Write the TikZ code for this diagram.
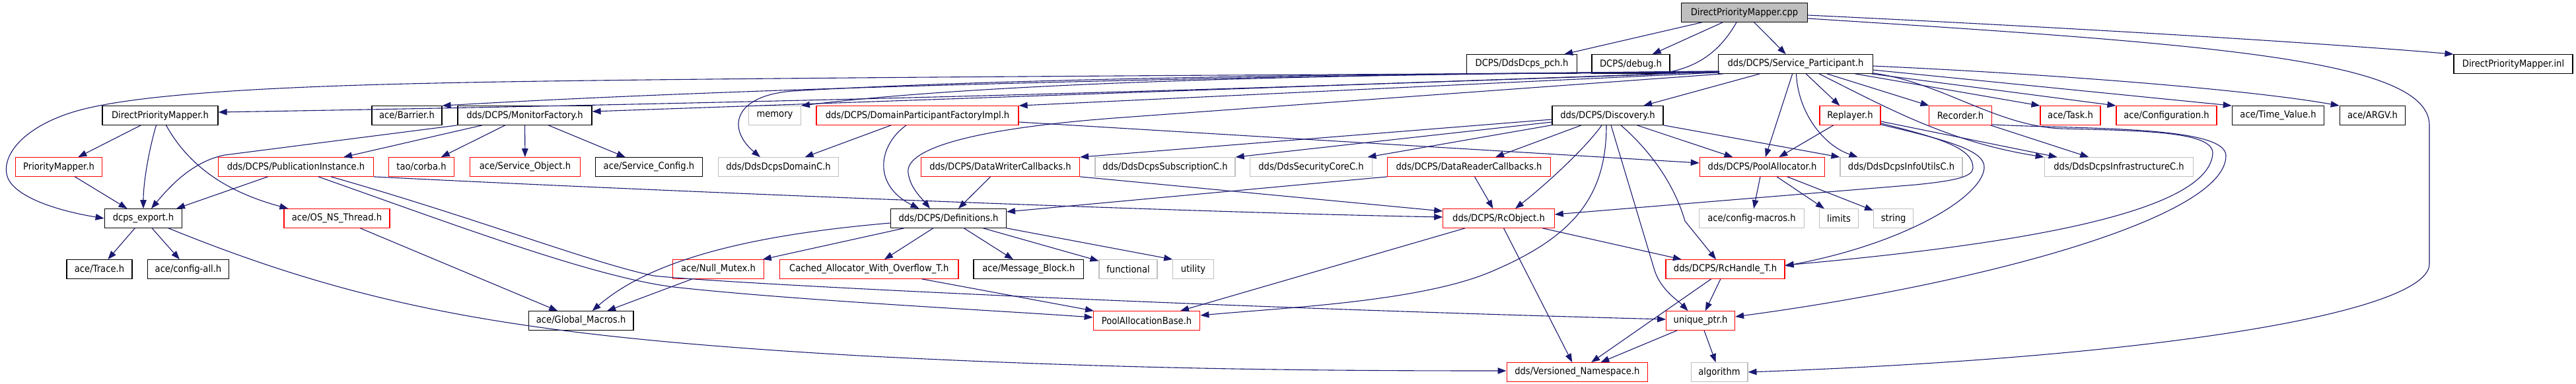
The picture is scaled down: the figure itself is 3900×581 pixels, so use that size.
\documentclass[tikz,border=0pt]{standalone}
\usepackage{fontspec}
\newfontfamily\gf[FakeStretch=0.9]{DejaVu Sans}
\usetikzlibrary{arrows.meta,calc}
\definecolor{edgec}{HTML}{191970}
\definecolor{redc}{HTML}{FF0000}
\definecolor{grayc}{HTML}{BFBFBF}
\tikzset{
  box/.style={draw=black, line width=1.2pt, minimum height=28.5pt, inner sep=0pt, font=\gf\fontsize{14.6}{17}\selectfont, text=black, fill=white},
  rbox/.style={box, draw=redc},
  gbox/.style={box, draw=grayc},
  edge/.style={draw=edgec, line width=1.1pt, -{Triangle[length=13pt,width=9.5pt]}}
}
\begin{document}
\begin{tikzpicture}[x=1pt,y=-1pt]
\useasboundingbox (0,0) rectangle (3900,581);
% row 0
\node[box, fill=grayc, minimum width=191pt] (cpp) at (2641,19) {DirectPriorityMapper.cpp};
% row 1
\node[box, minimum width=166.7pt] (pch) at (2304,97) {DCPS/DdsDcps\_pch.h};
\node[box, minimum width=118pt] (dbg) at (2469,97) {DCPS/debug.h};
\node[box, minimum width=233.6pt] (sp) at (2718.5,97) {dds/DCPS/Service\_Participant.h};
\node[box, minimum width=180pt] (inl) at (3805,97) {DirectPriorityMapper.inl};
% row 2
\node[box, minimum width=175pt] (dpmh) at (242.5,175) {DirectPriorityMapper.h};
\node[box, minimum width=106pt] (barrier) at (616,175) {ace/Barrier.h};
\node[box, minimum width=203pt] (mf) at (794.5,175) {dds/DCPS/MonitorFactory.h};
\node[gbox, minimum width=78.7pt] (mem) at (1173,175) {memory};
\node[rbox, minimum width=306pt] (dpf) at (1389,175) {dds/DCPS/DomainParticipantFactoryImpl.h};
\node[box, minimum width=168pt] (disc) at (2434,175) {dds/DCPS/Discovery.h};
\node[rbox, minimum width=92pt] (rep) at (2801,175) {Replayer.h};
\node[rbox, minimum width=94.3pt] (rec) at (2968,175) {Recorder.h};
\node[rbox, minimum width=91pt] (task) at (3134.5,175) {ace/Task.h};
\node[rbox, minimum width=152pt] (conf) at (3280,175) {ace/Configuration.h};
\node[box, minimum width=139.3pt] (tv) at (3449,175) {ace/Time\_Value.h};
\node[box, minimum width=99.5pt] (argv) at (3592,175) {ace/ARGV.h};
% row 3
\node[rbox, minimum width=130.5pt] (pm) at (89,253) {PriorityMapper.h};
\node[rbox, minimum width=234.5pt] (pi) at (448,253) {dds/DCPS/PublicationInstance.h};
\node[rbox, minimum width=98.5pt] (corba) at (638,253) {tao/corba.h};
\node[rbox, minimum width=166.5pt] (so) at (795,253) {ace/Service\_Object.h};
\node[box, minimum width=162.5pt] (sc) at (982.5,253) {ace/Service\_Config.h};
\node[gbox, minimum width=182.6pt] (domc) at (1178.5,253) {dds/DdsDcpsDomainC.h};
\node[rbox, minimum width=240pt] (dwc) at (1514.5,253) {dds/DCPS/DataWriterCallbacks.h};
\node[gbox, minimum width=212pt] (subc) at (1764,253) {dds/DdsDcpsSubscriptionC.h};
\node[gbox, minimum width=185.4pt] (secc) at (1985,253) {dds/DdsSecurityCoreC.h};
\node[rbox, minimum width=246.6pt] (drc) at (2224,253) {dds/DCPS/DataReaderCallbacks.h};
\node[rbox, minimum width=189.4pt] (pa) at (2668,253) {dds/DCPS/PoolAllocator.h};
\node[gbox, minimum width=185pt] (infou) at (2878.5,253) {dds/DdsDcpsInfoUtilsC.h};
\node[gbox, minimum width=225.5pt] (infra) at (3208,253) {dds/DdsDcpsInfrastructureC.h};
% row 4
\node[box, minimum width=117.5pt] (dcps) at (217,331) {dcps\_export.h};
\node[rbox, minimum width=160pt] (os) at (510,331) {ace/OS\_NS\_Thread.h};
\node[box, minimum width=174.7pt] (defs) at (1436,331) {dds/DCPS/Definitions.h};
\node[rbox, minimum width=168.4pt] (rco) at (2269,331) {dds/DCPS/RcObject.h};
\node[gbox, minimum width=158.7pt] (cm) at (2652,331) {ace/config-macros.h};
\node[gbox, minimum width=58.5pt] (lim) at (2784,331) {limits};
\node[gbox, minimum width=60pt] (str) at (2866.6,331) {string};
% row 5
\node[box, minimum width=99pt] (trace) at (150.5,408) {ace/Trace.h};
\node[box, minimum width=122.5pt] (cfgall) at (285,408) {ace/config-all.h};
\node[rbox, minimum width=138.5pt] (nm) at (1087.5,408) {ace/Null\_Mutex.h};
\node[rbox, minimum width=270.5pt] (cao) at (1315.7,408) {Cached\_Allocator\_With\_Overflow\_T.h};
\node[box, minimum width=166.7pt] (mb) at (1557.4,408) {ace/Message\_Block.h};
\node[gbox, minimum width=88pt] (func) at (1708,408) {functional};
\node[gbox, minimum width=61.5pt] (util) at (1806.5,408) {utility};
\node[rbox, minimum width=180pt] (rch) at (2612,408) {dds/DCPS/RcHandle\_T.h};
% row 6
\node[box, minimum width=158.7pt] (gm) at (879.6,486) {ace/Global\_Macros.h};
\node[rbox, minimum width=161.6pt] (pab) at (1736,486) {PoolAllocationBase.h};
\node[rbox, minimum width=103.8pt] (uptr) at (2574.6,486) {unique\_ptr.h};
% row 7
\node[rbox, minimum width=213.4pt] (vns) at (2387.8,564) {dds/Versioned\_Namespace.h};
\node[gbox, minimum width=85.8pt] (alg) at (2603,564) {algorithm};

% ---- edges from cpp
\draw[edge] (cpp) -- (pch);
\draw[edge] (cpp) -- (dbg);
\draw[edge] (cpp) -- (sp);
\draw[edge] ($(cpp.east)+(0,4)$) .. controls (3200,45) and (3550,68) .. (inl.north west);
\draw[edge] ($(cpp.east)+(0,9)$) .. controls (3350,67) and (3678,90) .. (3678,190) -- (3678,400) .. controls (3678,470) and (3300,540) .. (alg.east);
\draw[edge] ($(cpp.south)+(-12,0)$) .. controls (2600,85) and (2560,108) .. (2500,113) .. controls (2000,130) and (1400,152) .. ($(dpmh.east)+(0,-5)$);

% ---- edges from Service_Participant
\draw[edge] ($(sp.south west)+(2,-2)$) .. controls (2000,113) and (1000,118) .. (660,126) .. controls (380,132) and (190,145) .. (110,170) .. controls (30,195) and (0,240) .. (12,270) .. controls (25,300) and (90,320) .. (dcps.west);
\draw[edge] ($(sp.south west)+(2,-4)$) .. controls (1800,115) and (1100,135) .. (barrier.north east);
\draw[edge] ($(sp.south west)+(2,-3)$) -- ($(mf.east)+(0,-6)$);
\draw[edge] ($(sp.south west)+(2,-3)$) .. controls (2000,112) and (1500,125) .. (mem.north east);
\draw[edge] ($(sp.south west)+(2,-3)$) .. controls (2000,112) and (1500,120) .. (1200,138) .. controls (1110,145) and (1100,195) .. ($(domc.north)+(-27.5,0)$);
\draw[edge] ($(sp.south west)+(2,-2)$) -- (dpf.north east);
\draw[edge] ($(sp.south west)+(8,0)$) -- (1700,178) .. controls (1450,196) and (1370,230) .. (1375,262) .. controls (1378,285) and (1395,300) .. ($(defs.north)+(-28,0)$);
\draw[edge] (sp) -- (disc);
\draw[edge] (sp) -- (pa);
\draw[edge] ($(sp.south)+(1,0)$) .. controls (2722,170) and (2760,220) .. ($(infou.north)+(-66,0)$);
\draw[edge] (sp) -- (rep);
\draw[edge] (sp) -- (rec);
\draw[edge] ($(sp.south)+(90,0)$) -- (task.north west);
\draw[edge] ($(sp.south east)+(-3,0)$) -- (conf.north west);
\draw[edge] ($(sp.east)+(0,9)$) -- (tv.north west);
\draw[edge] ($(sp.east)+(0,3)$) .. controls (3100,112) and (3400,135) .. (argv.north west);
\draw[edge] ($(sp.south)+(35.5,0)$) .. controls (2860,165) and (2950,215) .. (infra.north west);
\draw[edge] ($(sp.south east)+(0,-1)$) .. controls (2940,125) and (3020,190) .. (3120,195) .. controls (3250,198) and (3350,200) .. (3350,232) .. controls (3345,330) and (3000,375) .. ($(rch.east)+(0,-6)$);

% ---- Replayer / Recorder
\draw[edge] (rep) -- (pa);
\draw[edge] ($(rep.east)+(0,9)$) -- ($(infra.north west)+(20,0)$);
\draw[edge] ($(rep.south east)+(0,-3)$) .. controls (2940,210) and (2988,225) .. (2987,255) .. controls (2986,268) and (2960,274) .. (2900,280) -- ($(rco.east)+(0,-6)$);
\draw[edge] ($(rep.south east)+(0,-1)$) .. controls (2960,215) and (3006,230) .. (3004,255) .. controls (3000,300) and (2880,370) .. ($(rch.east)+(0,-5)$);
\draw[edge] (rec) -- (infra);
\draw[edge] ($(rec.south east)+(0,-1)$) .. controls (3150,196) and (3370,190) .. (3370,236) .. controls (3370,330) and (3000,430) .. ($(uptr.east)+(0,-6)$);

% ---- Discovery
\draw[edge] ($(disc.west)+(0,6)$) -- (dwc.north east);
\draw[edge] ($(disc.west)+(0,10)$) -- (subc.north east);
\draw[edge] (disc) -- (secc);
\draw[edge] (disc) -- (drc);
\draw[edge] ($(disc.south)+(-9,0)$) .. controls (2400,225) and (2340,280) .. ($(rco.north)+(25,0)$);
\draw[edge] ($(disc.south)+(-2,0)$) .. controls (2432,300) and (2380,360) .. (2257,412) .. controls (2150,457) and (1950,466) .. ($(pab.east)+(0,-8)$);
\draw[edge] ($(disc.south)+(5,0)$) -- (2505,410) .. controls (2515,440) and (2540,455) .. ($(uptr.north)+(-19,0)$);
\draw[edge] ($(disc.south)+(20,0)$) .. controls (2500,230) and (2535,280) .. (2551,335) -- ($(rch.north)+(-14,0)$);
\draw[edge] (disc) -- (pa);
\draw[edge] (disc.south east) -- (infou.north west);

% ---- DomainParticipantFactoryImpl
\draw[edge] (dpf) -- (domc);
\draw[edge] ($(dpf.south)+(-17,0)$) .. controls (1330,220) and (1320,280) .. ($(defs.north)+(-44.5,0)$);
\draw[edge] ($(dpf.east)+(0,10)$) -- ($(pa.west)+(0,-6)$);

% ---- MonitorFactory
\draw[edge] (mf.south west) -- (340,235) .. controls (290,245) and (255,285) .. ($(dcps.north)+(12,0)$);
\draw[edge] (mf) -- ($(pi.north)+(72,0)$);
\draw[edge] (mf) -- (corba);
\draw[edge] (mf) -- (so);
\draw[edge] (mf) -- (sc);

% ---- DirectPriorityMapper.h
\draw[edge] (dpmh) -- (pm);
\draw[edge] ($(dpmh.south)+(-6,0)$) .. controls (226,225) and (217,275) .. (dcps.north);
\draw[edge] ($(dpmh.south)+(9,0)$) .. controls (285,250) and (340,290) .. ($(os.north west)+(7,0)$);

% ---- PriorityMapper / PublicationInstance / OS
\draw[edge] (pm) -- (dcps);
\draw[edge] (pi) -- ($(dcps.north)+(50,0)$);
\draw[edge] (pi.south east) .. controls (1000,290) and (1800,322) .. ($(rco.west)+(0,-2)$);
\draw[edge] ($(pi.south)+(34,0)$) .. controls (700,345) and (900,420) .. (1020,435) .. controls (1200,455) and (1500,470) .. ($(pab.west)+(0,-5)$);
\draw[edge] ($(pi.south)+(53,0)$) .. controls (720,330) and (900,400) .. (990,418) .. controls (1100,430) and (1800,465) .. ($(uptr.west)+(0,-2)$);
\draw[edge] (os) -- (gm);

% ---- dcps_export
\draw[edge] (dcps) -- (trace);
\draw[edge] (dcps) -- (cfgall);
\draw[edge] ($(dcps.south)+(38,0)$) .. controls (560,470) and (800,510) .. (1300,539) .. controls (1700,560) and (2000,562) .. ($(vns.west)+(0,-2)$);

% ---- Definitions
\draw[edge] ($(defs.west)+(0,7)$) .. controls (1150,355) and (990,390) .. ($(gm.north)+(17,0)$);
\draw[edge] (defs) -- (nm);
\draw[edge] (defs) -- (cao);
\draw[edge] (defs) -- (mb);
\draw[edge] (defs) -- (func);
\draw[edge] (defs.south east) -- (util.north west);
\draw[edge] (nm) -- (gm);
\draw[edge] (cao) -- (pab);

% ---- callbacks
\draw[edge] (dwc) -- (defs);
\draw[edge] (dwc.south east) -- ($(rco.west)+(0,-11)$);
\draw[edge] (drc.south west) -- ($(defs.east)+(0,-10)$);
\draw[edge] (drc) -- (rco);

% ---- RcObject, RcHandle, unique_ptr, PoolAllocator
\draw[edge] (rco) -- (pab);
\draw[edge] (rco) -- (vns);
\draw[edge] (rco) -- (rch);
\draw[edge] (rch) -- (vns);
\draw[edge] (rch) -- (uptr);
\draw[edge] (uptr) -- (vns);
\draw[edge] (uptr) -- (alg);
\draw[edge] (pa) -- (cm);
\draw[edge] (pa) -- (lim);
\draw[edge] (pa) -- (str);
\end{tikzpicture}
\end{document}
